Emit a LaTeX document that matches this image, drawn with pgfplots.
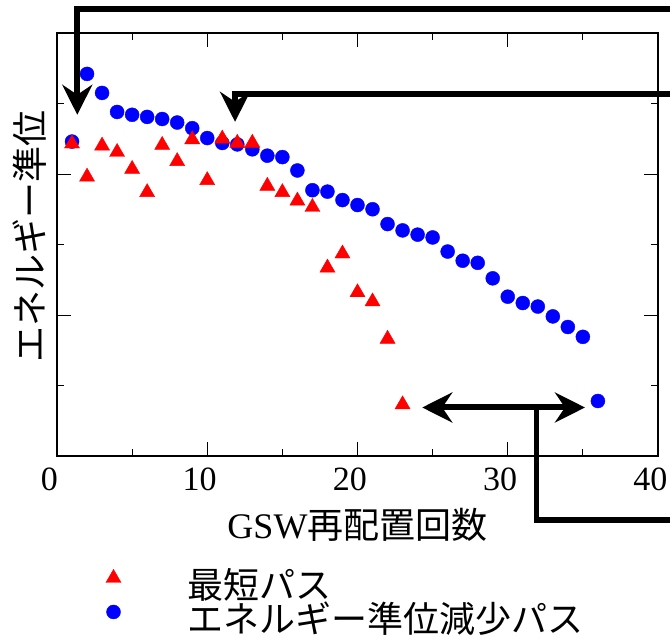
\documentclass[border=0pt]{standalone}
\usepackage{fontspec}
\setmainfont{Liberation Serif}
\newfontfamily\cjk{Noto Sans CJK JP}
\usepackage{pgfplots}
\pgfplotsset{compat=1.18}
\usetikzlibrary{arrows.meta}
\definecolor{pred}{RGB}{255,0,0}
\definecolor{pblue}{RGB}{0,0,255}
\begin{document}
\begin{tikzpicture}
\useasboundingbox (0,0) rectangle (670pt,638pt);
\clip (0,0) rectangle (670pt,638pt);
\begin{axis}[
  at={(57pt,182pt)}, anchor=south west,
  scale only axis, width=601pt, height=423pt,
  xmin=0, xmax=40, ymin=0, ymax=6,
  clip=false,
  axis line style={line width=1.2pt},
  xtick={0,10,20,30,40},
  minor xtick={5,15,25,35},
  ytick={0,2,4,6}, yticklabels={},
  minor ytick={1,3,5},
  major tick length=14pt, minor tick length=7pt,
  every tick/.style={black, line width=1pt},
  tick align=inside,
  /pgf/number format/assume math mode=true,
  xticklabel style={font=\fontsize{34}{34}\selectfont, anchor=north, inner sep=0pt, yshift=-12pt, xshift=-7.5pt},
  xlabel={GSW{\cjk 再配置回数}},
  xlabel style={at={(axis description cs:0.5,0)}, anchor=center, yshift=-69pt, font=\fontsize{36}{36}\selectfont, inner sep=0pt},
  ylabel={\cjk エネルギー準位},
  ylabel style={at={(axis description cs:-0.045,0.518)}, anchor=center, rotate=0, font=\fontsize{36}{36}\selectfont, inner sep=0pt},
  reverse legend,
  legend style={draw=none, fill=none, at={(axis description cs:0.0815,-0.2655)}, anchor=north west,
    inner sep=0pt, outer sep=0pt, row sep=2pt, column sep=66pt,
    font=\cjk\fontsize{36}{36}\selectfont, nodes={inner sep=0pt}},
  legend cell align=left,
  legend image code/.code={\draw[#1] plot coordinates {(0pt,6pt)};},
]
\addplot[only marks, mark=*, mark size=7pt, color=pblue, fill=pblue] coordinates {
(1,4.46) (2,5.42) (3,5.15) (4,4.88) (5,4.84) (6,4.81) (7,4.78) (8,4.73) (9,4.65) (10,4.51)
(11,4.44) (12,4.42) (13,4.35) (14,4.26) (15,4.24) (16,4.05) (17,3.77) (18,3.75) (19,3.63) (20,3.56)
(21,3.50) (22,3.29) (23,3.20) (24,3.14) (25,3.10) (26,2.90) (27,2.77) (28,2.74) (29,2.52) (30,2.26)
(31,2.17) (32,2.12) (33,1.98) (34,1.83) (35,1.69) (36,0.78)
};
\addlegendentry{エネルギー準位減少パス}
\addplot[only marks, mark=triangle*, mark size=8.7pt, color=pred, fill=pred] coordinates {
(1,4.43) (2,3.96) (3,4.40) (4,4.31) (5,4.07) (6,3.74) (7,4.41) (8,4.18) (9,4.49) (10,3.91)
(11,4.50) (12,4.44) (13,4.44) (14,3.83) (15,3.74) (16,3.62) (17,3.53) (18,2.67) (19,2.87) (20,2.32)
(21,2.19) (22,1.66) (23,0.73)
};
\addlegendentry{最短パス}
\draw[line width=6pt, -{Stealth[length=30pt, width=30pt, inset=10pt]}]
  (axis cs:42,6.345) -- (axis cs:1.35,6.345) -- (axis cs:1.35,4.84);
\draw[line width=6pt, -{Stealth[length=30pt, width=30pt, inset=10pt]}]
  (axis cs:42,5.14) -- (axis cs:11.85,5.14) -- (axis cs:11.85,4.74);
\draw[line width=6pt, {Stealth[length=30pt, width=30pt, inset=10pt]}-{Stealth[length=30pt, width=30pt, inset=10pt]}]
  (axis cs:24.31,0.688) -- (axis cs:35.14,0.688);
\draw[line width=5.5pt]
  (axis cs:31.93,0.688) -- (axis cs:31.93,-0.908) -- (axis cs:42,-0.908);
\end{axis}
\end{tikzpicture}
\end{document}
